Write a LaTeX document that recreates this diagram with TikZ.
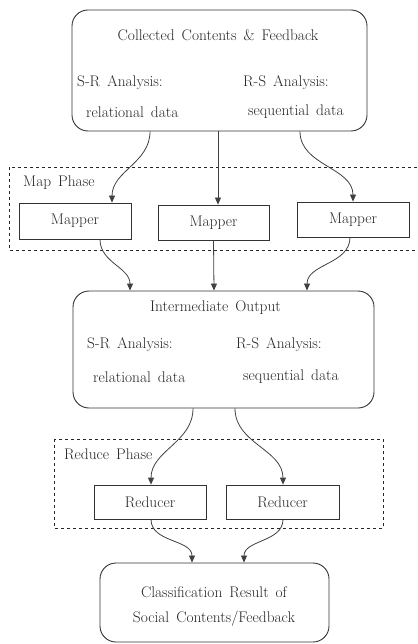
\documentclass[tikz,border=0pt]{standalone}
\usepackage{fontspec}
\usetikzlibrary{arrows.meta}
\newcommand{\dgfont}{\fontsize{15.4}{18}\selectfont\addfontfeatures{LetterSpace=3}\setlength{\spaceskip}{0.45em plus 0.1em}}
\begin{document}
\begin{tikzpicture}[x=1pt,y=-1pt,
  every node/.style={font=\dgfont, text=black!85},
  bigbox/.style={draw=black!80, line width=0.9pt, rounded corners=16pt, inner sep=0pt},
  smallbox/.style={draw=black!80, line width=0.8pt, inner sep=0pt},
  phase/.style={draw=black!85, dashed, line width=0.7pt},
  txt/.style={inner sep=0pt, anchor=center},
  conn/.style={draw=black!75, line width=0.8pt, -{Triangle[length=7pt,width=6pt]}}]
\useasboundingbox (0,0) rectangle (417,644);

% phase frames
\draw[phase] (9,167) rectangle (424,250);
\node[txt, anchor=west] (mapl) at (23,183) {Map Phase};
\draw[phase] (54,439) rectangle (383,528);
\node[txt, anchor=west] (redl) at (64,454) {Reduce Phase};

% top box
\node[bigbox, minimum width=295pt, minimum height=121pt] (top) at (219.5,70.5) {};
\node[txt] (t1) at (218,35) {Collected Contents \& Feedback};
\node[txt, anchor=west] (t2) at (77,83) {S-R Analysis:};
\node[txt, anchor=west] (t3) at (86,112) {relational data};
\node[txt, anchor=west] (t4) at (243,83) {R-S Analysis:};
\node[txt, anchor=west] (t5) at (248,112) {sequential data};

% mappers
\node[smallbox, minimum width=112pt, minimum height=36pt] (m1) at (75,221) {Mapper};
\node[smallbox, minimum width=111pt, minimum height=35pt] (m2) at (213.5,222.5) {Mapper};
\node[smallbox, minimum width=112pt, minimum height=35pt] (m3) at (353,219.5) {Mapper};

% intermediate
\node[bigbox, minimum width=301pt, minimum height=117pt] (mid) at (223.5,349.5) {};
\node[txt] (i1) at (215.5,308) {Intermediate Output};
\node[txt, anchor=west] (i2) at (87,345) {S-R Analysis:};
\node[txt, anchor=west] (i3) at (93,377) {relational data};
\node[txt, anchor=west] (i4) at (236,345) {R-S Analysis:};
\node[txt, anchor=west] (i5) at (243,377) {sequential data};

% reducers
\node[smallbox, minimum width=112pt, minimum height=34pt] (r1) at (150,502) {Reducer};
\node[smallbox, minimum width=113pt, minimum height=34pt] (r2) at (282.5,502) {Reducer};

% final
\node[bigbox, minimum width=229pt, minimum height=79pt] (fin) at (214.5,602.5) {};
\node[txt] (f1) at (214,592) {Classification Result of};
\node[txt] (f2) at (214,619) {Social Contents/Feedback};

% connectors
\draw[conn] ([xshift=-69.5pt]top.south) to[out=-90,in=90] ([xshift=37pt]m1.north);
\draw[conn] ([xshift=-1.5pt]top.south) -- ([xshift=4.5pt]m2.north);
\draw[conn] ([xshift=80.5pt]top.south) to[out=-90,in=90] (m3.north);

\draw[conn] ([xshift=25pt]m1.south) to[out=-90,in=90] ([xshift=-93.5pt]mid.north);
\draw[conn] ([xshift=0pt]m2.south) -- ([xshift=-9.5pt]mid.north);
\draw[conn] ([xshift=-3pt]m3.south) to[out=-90,in=90] ([xshift=83.5pt]mid.north);

\draw[conn] ([xshift=-30.5pt]mid.south) to[out=-90,in=90] ([xshift=1pt]r1.north);
\draw[conn] ([xshift=11.5pt]mid.south) to[out=-90,in=90] ([xshift=0.5pt]r2.north);

\draw[conn] ([xshift=1pt]r1.south) to[out=-90,in=90] ([xshift=-22.5pt]fin.north);
\draw[conn] ([xshift=0.5pt]r2.south) to[out=-90,in=90] ([xshift=29.5pt]fin.north);
\end{tikzpicture}
\end{document}
